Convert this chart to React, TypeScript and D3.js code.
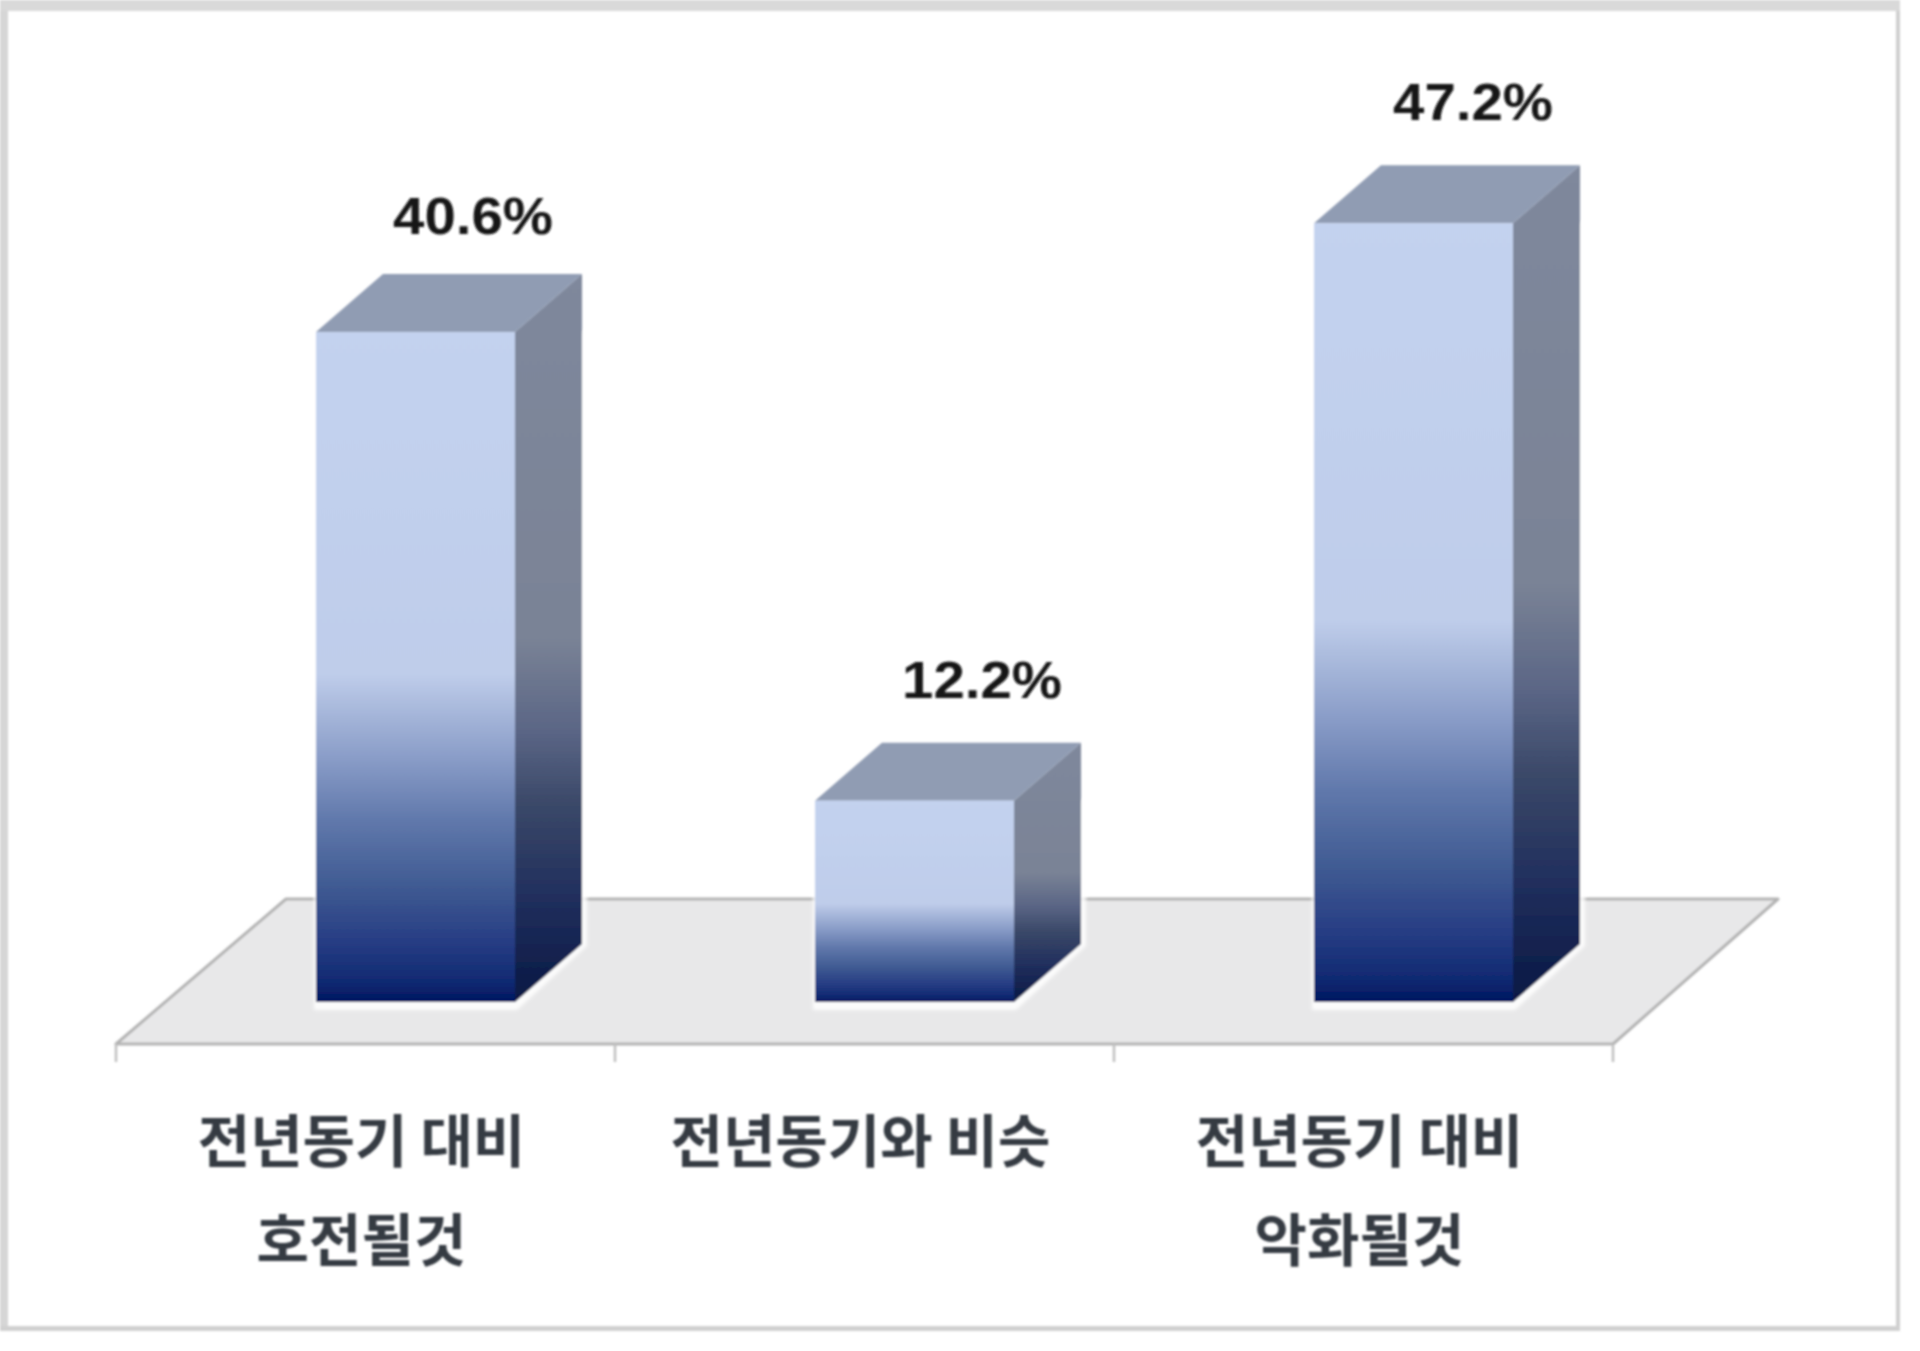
import React from "react";
import * as d3 from "d3";

const categories = ["전년동기 대비|호전될것", "전년동기와 비슷", "전년동기 대비|악화될것"];
const values = [40.6, 12.2, 47.2];
const valueLabels = ["40.6%", "12.2%", "47.2%"];

const W = 1920, H = 1351;
const FONT = "'Noto Sans CJK KR', 'Noto Sans', sans-serif";
const floorFL = [116, 1044], floorFR = [1613, 1044], floorBR = [1778, 899], floorBL = [286, 899];
const baseY = 1002;
const dx = 67, dy = 58;
const barW = 199;
const barInset = 200;
const labelLift = [0, 5, 5];
const labelShift = [0, 10, 2];

const x = d3.scaleBand<number>().domain([0, 1, 2]).range([116, 1613]).paddingInner(0);
const y = d3.scaleLinear().domain([0, 50]).range([baseY, baseY - 825]);
const poly = (p: number[][]) => d3.line()(p as [number, number][])! + "Z";

export default function App() {
  return (
    <svg width={W} height={H} viewBox={`0 0 ${W} ${H}`} style={{ position: "absolute", left: 0, top: 0, background: "#fff" }}>
      <defs>
        <linearGradient id="front" x1="0" y1="0" x2="0" y2="1">
          <stop offset="0" stopColor="#c3d2ef" />
          <stop offset="0.51" stopColor="#bfcdea" />
          <stop offset="0.635" stopColor="#8a9dc8" />
          <stop offset="0.73" stopColor="#6078ab" />
          <stop offset="0.83" stopColor="#3f5a92" />
          <stop offset="0.91" stopColor="#273d84" />
          <stop offset="0.97" stopColor="#102a72" />
          <stop offset="1" stopColor="#001660" />
        </linearGradient>
        <linearGradient id="side" x1="0" y1="0" x2="0" y2="1">
          <stop offset="0" stopColor="#7f889c" />
          <stop offset="0.5" stopColor="#7a8396" />
          <stop offset="0.63" stopColor="#5a6585" />
          <stop offset="0.73" stopColor="#3a4868" />
          <stop offset="0.85" stopColor="#22305e" />
          <stop offset="1" stopColor="#081844" />
        </linearGradient>
        <filter id="soft" x="-5%" y="-5%" width="110%" height="110%"><feGaussianBlur stdDeviation="1.8" /></filter>
        <filter id="blur" x="-2%" y="-2%" width="104%" height="104%"><feGaussianBlur stdDeviation="1" /></filter>
      </defs>
      <rect width={W} height={H} fill="#fff" />
      <g filter="url(#blur)">
        {/* frame */}
        <rect x={0} y={0} width={8} height={1331} fill="#d6d6d6" />
        <rect x={0} y={0} width={1900} height={11} fill="#d9d9d9" />
        <rect x={1896} y={11} width={4} height={1320} fill="#cfcfcf" />
        <rect x={0} y={1326} width={1900} height={5} fill="#d0d0d0" />
        {/* floor */}
        <path d={poly([floorFL, floorFR, floorBR, floorBL])} fill="#e8e8e9" stroke="#b3b3b3" strokeWidth={3} strokeLinejoin="round" />
        {[0, 1, 2, 3].map((i) => {
          const tx = i < 3 ? x(i)! : 1613;
          return <line key={i} x1={tx} x2={tx} y1={1044} y2={1062} stroke="#c0c0c0" strokeWidth={2.5} />;
        })}
        {/* bars */}
        {values.map((v, i) => {
          const x0 = x(i)! + barInset;
          const x1 = x0 + barW;
          const t = y(v);
          return (
            <g key={i}>
              <path d={poly([[x0 - 2, baseY + 8], [x1 + 2, baseY + 8], [x1 + dx + 5, baseY - dy + 2], [x1 + dx + 5, t], [x0 - 2, t]])} fill="#fff" opacity={0.85} filter="url(#soft)" />
              <path d={poly([[x1, t], [x1 + dx, t - dy], [x1 + dx, baseY - dy], [x1, baseY]])} fill="url(#side)" />
              <path d={poly([[x0, t], [x0 + dx, t - dy], [x1 + dx, t - dy], [x1, t]])} fill="#909cb3" />
              <rect x={x0} y={t} width={barW} height={baseY - t} fill="url(#front)" />
              <text x={x1 - 42 + labelShift[i]} y={t - 98 - labelLift[i]} textAnchor="middle" fontWeight={700} fontSize={51} fill="#141414" style={{ fontFamily: "'Liberation Sans', Arial, sans-serif" }} textLength={160} lengthAdjust="spacingAndGlyphs">
                {valueLabels[i]}
              </text>
            </g>
          );
        })}
        {/* category labels */}
        {categories.map((c, i) => (
          <text key={i} textAnchor="middle" fontFamily={FONT} fontWeight={700} fontSize={57} fill="#363b42">
            {c.split("|").map((line, j) => (
              <tspan key={j} x={x(i)! + x.bandwidth() / 2 - 4} y={1162 + j * 99}>{line}</tspan>
            ))}
          </text>
        ))}
      </g>
    </svg>
  );
}
